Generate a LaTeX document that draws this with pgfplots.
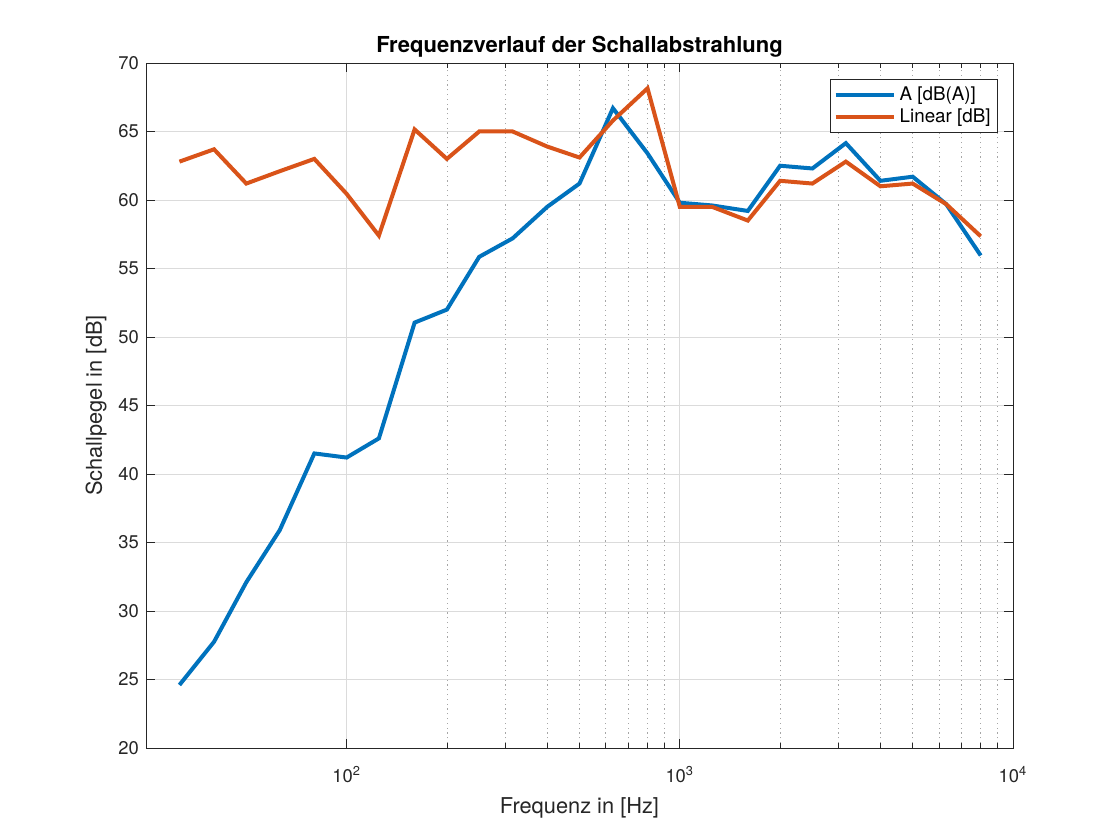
\documentclass[border=0pt]{standalone}
\usepackage{pgfplots}
\pgfplotsset{compat=1.18}
\usepackage{fontspec}
\setmainfont{TeX Gyre Heros}
\definecolor{mblue}{rgb}{0,0.447,0.741}
\definecolor{morange}{rgb}{0.850,0.325,0.098}
\definecolor{axgray}{rgb}{0.15,0.15,0.15}
\begin{document}
\begin{tikzpicture}
\path[use as bounding box] (0,0) rectangle (560pt,420pt);
\begin{axis}[
  at={(73pt,46pt)}, anchor=south west,
  scale only axis, width=433.5pt, height=342.5pt,
  xmode=log, xmin=25, xmax=10000, ymin=20, ymax=70,
  ytick={20,25,...,70},
  xtick={100,1000,10000},
  xticklabels={10\textsuperscript{2},10\textsuperscript{3},10\textsuperscript{4}},
  /pgf/number format/assume math mode=true,
  tick label style={font=\fontsize{9.2pt}{11pt}\selectfont, text=axgray},
  xticklabel style={yshift=-5.5pt},
  label style={font=\fontsize{10.9pt}{13pt}\selectfont, text=axgray},
  xlabel style={yshift=-0.5pt},
  ylabel style={yshift=-1pt},
  title style={font=\bfseries\fontsize{11pt}{13pt}\selectfont, yshift=-6.5pt},
  title={Frequenzverlauf der Schallabstrahlung},
  xlabel={Frequenz in [Hz]},
  ylabel={Schallpegel in [dB]},
  axis line style={axgray, line width=0.4pt},
  every tick/.style={axgray, line width=0.4pt},
  major tick length=4.5pt, minor tick length=2.5pt,
  tick align=inside,
  xmajorgrids, xminorgrids, ymajorgrids,
  major grid style={black!14, line width=0.4pt},
  minor grid style={black!35, line width=0.4pt, dash pattern=on 0.6pt off 1.8pt},
  legend style={at={(1,1)}, anchor=north east, xshift=-7.5pt, yshift=-8pt,
    draw=axgray, line width=0.4pt, font=\fontsize{9.4pt}{11.5pt}\selectfont,
    inner sep=1.5pt, row sep=-1pt},
  legend cell align=left,
  legend image code/.code={\draw[#1, line width=2pt] (0pt,0pt) -- (29pt,0pt);},
]
\addplot[mblue, line width=2pt] coordinates {
(31.5,24.6) (40,27.75) (50,32.1) (63,35.9) (80,41.5) (100,41.2) (125,42.6)
(160,51.05) (200,52.0) (250,55.85) (315,57.2) (400,59.5) (500,61.2) (630,66.7)
(800,63.4) (1000,59.8) (1250,59.6) (1600,59.2) (2000,62.5) (2500,62.3)
(3150,64.15) (4000,61.4) (5000,61.7) (6300,59.7) (8000,55.95)};
\addlegendentry{A [dB(A)]}
\addplot[morange, line width=2pt] coordinates {
(31.5,62.8) (40,63.7) (50,61.2) (63,62.1) (80,63.0) (100,60.45) (125,57.4)
(160,65.15) (200,63.0) (250,65.0) (315,65.0) (400,63.9) (500,63.1) (630,65.8)
(800,68.15) (1000,59.5) (1250,59.5) (1600,58.5) (2000,61.4) (2500,61.2)
(3150,62.8) (4000,61.0) (5000,61.2) (6300,59.7) (8000,57.35)};
\addlegendentry{Linear [dB]}
\end{axis}
\end{tikzpicture}
\end{document}
